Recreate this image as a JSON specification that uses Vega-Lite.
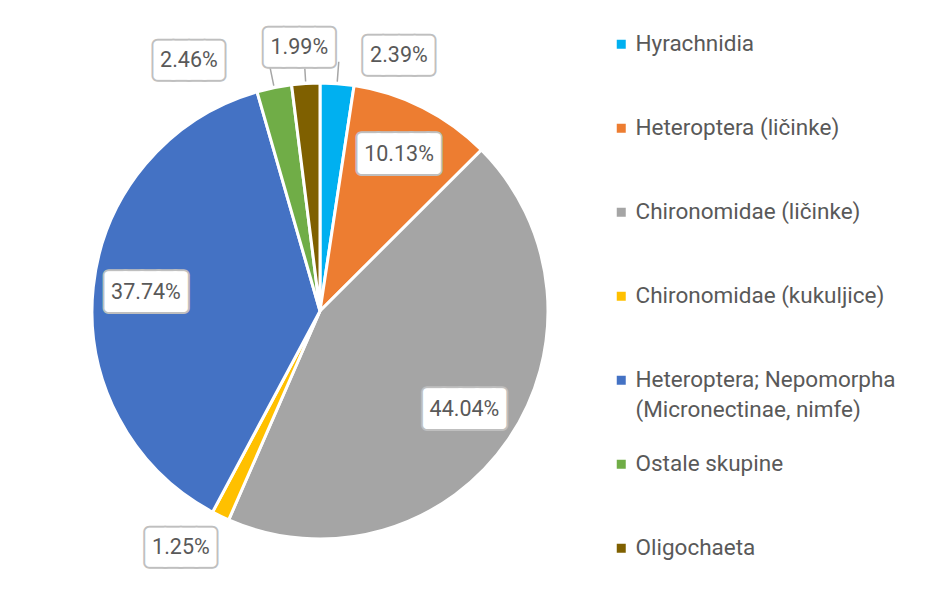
{
  "$schema": "https://vega.github.io/schema/vega-lite/v6.json",
  "width": 580,
  "height": 576,
  "padding": {"left": 30, "top": 20, "right": 5, "bottom": 0},
  "background": "white",
  "config": {
    "view": {"stroke": null},
    "font": "Roboto",
    "style": {"guide-label": {"lineHeight": 30}}
  },
  "data": {
    "values": [
      {"i": 1, "name": "Hyrachnidia", "v": 0.0239},
      {"i": 2, "name": "Heteroptera (ličinke)", "v": 0.1013},
      {"i": 3, "name": "Chironomidae (ličinke)", "v": 0.4404},
      {"i": 4, "name": "Chironomidae (kukuljice)", "v": 0.0125},
      {"i": 5, "name": "Heteroptera; Nepomorpha (Micronectinae, nimfe)", "v": 0.3774},
      {"i": 6, "name": "Ostale skupine", "v": 0.0246},
      {"i": 7, "name": "Oligochaeta", "v": 0.0199}
    ]
  },
  "encoding": {
    "theta": {"field": "v", "type": "quantitative", "stack": true},
    "order": {"field": "i", "type": "quantitative"}
  },
  "layer": [
    {
      "mark": {"type": "arc", "outerRadius": 228, "stroke": "white", "strokeWidth": 3},
      "encoding": {
        "color": {
          "field": "name",
          "type": "nominal",
          "scale": {
            "domain": ["Hyrachnidia", "Heteroptera (ličinke)", "Chironomidae (ličinke)", "Chironomidae (kukuljice)", "Heteroptera; Nepomorpha (Micronectinae, nimfe)", "Ostale skupine", "Oligochaeta"],
            "range": ["#00B0F0", "#ED7D31", "#A5A5A5", "#FFC000", "#4472C4", "#70AD47", "#7F6000"]
          },
          "legend": {
            "title": null,
            "orient": "none",
            "legendX": 580,
            "legendY": 10,
            "symbolType": "square",
            "symbolSize": 81,
            "symbolStrokeWidth": 0,
            "labelFont": "Roboto",
            "labelFontSize": 22.5,
            "labelColor": "#595959",
            "labelLimit": 400,
            "labelOffset": 3,
            "rowPadding": 31,
            "labelExpr": "datum.label === 'Heteroptera; Nepomorpha (Micronectinae, nimfe)' ? ['Heteroptera; Nepomorpha', '(Micronectinae, nimfe)'] : [datum.label, '']"
          }
        }
      }
    },
    {
      "mark": {"type": "arc", "innerRadius": 230, "outerRadius": 250, "padAngle": 0.8, "fillOpacity": 0, "stroke": "#A6A6A6", "strokeWidth": 1.5},
      "encoding": {"strokeOpacity": {"condition": {"test": "datum.name === 'Hyrachnidia'", "value": 1}, "value": 0}}
    },
    {
      "mark": {"type": "arc", "innerRadius": 230, "outerRadius": 243, "padAngle": 0.8, "fillOpacity": 0, "stroke": "#A6A6A6", "strokeWidth": 1.5},
      "encoding": {"strokeOpacity": {"condition": {"test": "datum.name === 'Oligochaeta'", "value": 1}, "value": 0}}
    },
    {
      "mark": {"type": "arc", "innerRadius": 230, "outerRadius": 260, "padAngle": 0.8, "fillOpacity": 0, "stroke": "#A6A6A6", "strokeWidth": 1.5},
      "encoding": {"strokeOpacity": {"condition": {"test": "datum.name === 'Ostale skupine'", "value": 1}, "value": 0}}
    },
    {
      "layer": [
        {"mark": {"type": "text", "radius": 175, "dx": 4.3, "font": "DejaVu Sans Mono", "fontSize": 27.6, "fill": "#BFBFBF", "stroke": "#BFBFBF", "strokeWidth": 12, "strokeJoin": "round"},
         "encoding": {"text": {"condition": {"test": "datum.v > 0.05", "value": "████▌"}, "value": ""}}},
        {"mark": {"type": "text", "radius": 175, "dx": 4.3, "font": "DejaVu Sans Mono", "fontSize": 27.6, "fill": "white", "stroke": "white", "strokeWidth": 8, "strokeJoin": "round"},
         "encoding": {"text": {"condition": {"test": "datum.v > 0.05", "value": "████▌"}, "value": ""}}},
        {"mark": {"type": "text", "radius": 175, "fontSize": 21.5, "fill": "#595959"},
         "encoding": {"text": {"condition": {"test": "datum.v > 0.05", "field": "v", "type": "quantitative", "format": ".2%"}, "value": ""}}}
      ]
    },
    {
      "layer": [
        {"mark": {"type": "text", "radius": 264, "thetaOffset": -0.016, "font": "DejaVu Sans Mono", "fontSize": 26, "fill": "#BFBFBF", "stroke": "#BFBFBF", "strokeWidth": 12, "strokeJoin": "round"},
         "encoding": {"text": {"condition": {"test": "datum.name === 'Oligochaeta'", "value": "████"}, "value": ""}}},
        {"mark": {"type": "text", "radius": 264, "thetaOffset": -0.016, "font": "DejaVu Sans Mono", "fontSize": 26, "fill": "white", "stroke": "white", "strokeWidth": 8, "strokeJoin": "round"},
         "encoding": {"text": {"condition": {"test": "datum.name === 'Oligochaeta'", "value": "████"}, "value": ""}}},
        {"mark": {"type": "text", "radius": 264, "thetaOffset": -0.016, "fontSize": 21.5, "fill": "#595959"},
         "encoding": {"text": {"condition": {"test": "datum.name === 'Oligochaeta'", "field": "v", "type": "quantitative", "format": ".2%"}, "value": ""}}}
      ]
    },
    {
      "layer": [
        {"mark": {"type": "text", "radius": 267, "thetaOffset": 0.225, "font": "DejaVu Sans Mono", "fontSize": 26, "fill": "#BFBFBF", "stroke": "#BFBFBF", "strokeWidth": 12, "strokeJoin": "round"},
         "encoding": {"text": {"condition": {"test": "datum.name === 'Hyrachnidia'", "value": "████"}, "value": ""}}},
        {"mark": {"type": "text", "radius": 267, "thetaOffset": 0.225, "font": "DejaVu Sans Mono", "fontSize": 26, "fill": "white", "stroke": "white", "strokeWidth": 8, "strokeJoin": "round"},
         "encoding": {"text": {"condition": {"test": "datum.name === 'Hyrachnidia'", "value": "████"}, "value": ""}}},
        {"mark": {"type": "text", "radius": 267, "thetaOffset": 0.225, "fontSize": 21.5, "fill": "#595959"},
         "encoding": {"text": {"condition": {"test": "datum.name === 'Hyrachnidia'", "field": "v", "type": "quantitative", "format": ".2%"}, "value": ""}}}
      ]
    },
    {
      "layer": [
        {"mark": {"type": "text", "radius": 282, "thetaOffset": -0.281, "font": "DejaVu Sans Mono", "fontSize": 26, "fill": "#BFBFBF", "stroke": "#BFBFBF", "strokeWidth": 12, "strokeJoin": "round"},
         "encoding": {"text": {"condition": {"test": "datum.name === 'Ostale skupine'", "value": "████"}, "value": ""}}},
        {"mark": {"type": "text", "radius": 282, "thetaOffset": -0.281, "font": "DejaVu Sans Mono", "fontSize": 26, "fill": "white", "stroke": "white", "strokeWidth": 8, "strokeJoin": "round"},
         "encoding": {"text": {"condition": {"test": "datum.name === 'Ostale skupine'", "value": "████"}, "value": ""}}},
        {"mark": {"type": "text", "radius": 282, "thetaOffset": -0.281, "fontSize": 21.5, "fill": "#595959"},
         "encoding": {"text": {"condition": {"test": "datum.name === 'Ostale skupine'", "field": "v", "type": "quantitative", "format": ".2%"}, "value": ""}}}
      ]
    },
    {
      "layer": [
        {"mark": {"type": "text", "radius": 275, "thetaOffset": 0.079, "font": "DejaVu Sans Mono", "fontSize": 26, "fill": "#BFBFBF", "stroke": "#BFBFBF", "strokeWidth": 12, "strokeJoin": "round"},
         "encoding": {"text": {"condition": {"test": "datum.name === 'Chironomidae (kukuljice)'", "value": "████"}, "value": ""}}},
        {"mark": {"type": "text", "radius": 275, "thetaOffset": 0.079, "font": "DejaVu Sans Mono", "fontSize": 26, "fill": "white", "stroke": "white", "strokeWidth": 8, "strokeJoin": "round"},
         "encoding": {"text": {"condition": {"test": "datum.name === 'Chironomidae (kukuljice)'", "value": "████"}, "value": ""}}},
        {"mark": {"type": "text", "radius": 275, "thetaOffset": 0.079, "fontSize": 21.5, "fill": "#595959"},
         "encoding": {"text": {"condition": {"test": "datum.name === 'Chironomidae (kukuljice)'", "field": "v", "type": "quantitative", "format": ".2%"}, "value": ""}}}
      ]
    }
  ]
}
